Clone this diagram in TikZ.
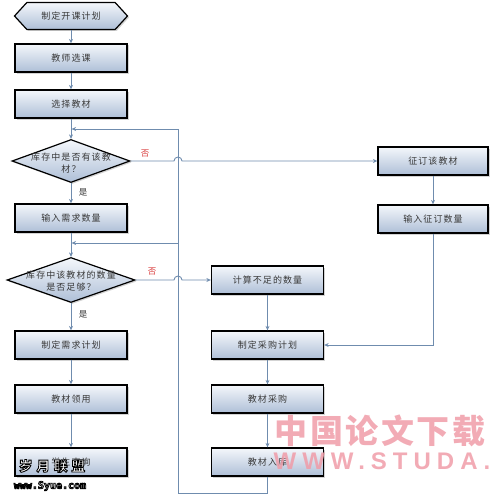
\documentclass[tikz,border=0pt]{standalone}
\usepackage{fontspec}
\setmainfont{Liberation Serif}
\newfontfamily\cjk[LetterSpace=12]{Noto Sans CJK SC}
\newfontfamily\cjkwm[LetterSpace=8]{Noto Sans CJK SC}
\newfontfamily\cjkwmb[LetterSpace=30]{Noto Sans CJK SC}
\newfontfamily\latwm[LetterSpace=25]{Liberation Sans}
\newfontfamily\monowm{DejaVu Sans Mono}
\usetikzlibrary{shapes.geometric,shapes.symbols,shadows,arrows.meta}
\definecolor{lnc}{HTML}{6F8CAE}
\definecolor{boxb}{HTML}{AEBFD7}
\definecolor{boxt}{HTML}{F4F7FB}
\definecolor{wmpink}{HTML}{F09CA8}
\definecolor{nored}{HTML}{D83A3A}
\newcommand\outlinetxt[2]{\special{pdf:literal direct 2 Tr #1 w 0 G}#2\special{pdf:literal direct 0 Tr}}
\tikzset{
  shade/.style={top color=boxt, bottom color=boxb},
  shad/.style={drop shadow={shadow xshift=1.5pt,shadow yshift=-1.5pt,opacity=0.35,fill=gray}},
  proc/.style={draw=black, line width=1.3pt, shade, shad, minimum width=112pt,
    minimum height=28pt, inner sep=0pt, font=\cjk\fontsize{9}{11}\selectfont, text=black!78},
  startbox/.style={signal, signal to=west and east, signal pointer angle=95,
    draw=black, line width=1.2pt, shade, shad, minimum width=113pt, minimum height=27pt,
    inner sep=0pt, font=\cjk\fontsize{9}{11}\selectfont, text=black!78},
  dec/.style={diamond, draw=black, line width=1.2pt, shade, shad, inner sep=0pt},
  dtext/.style={align=center, inner sep=0pt, font=\cjk\fontsize{9}{12.5}\selectfont, text=black!78},
  conn/.style={draw=lnc, line width=0.9pt, -{Stealth[length=4.5pt,width=4pt]}},
  yes/.style={font=\cjk\fontsize{8.5}{10}\selectfont, text=black!80, inner sep=0pt},
  no/.style={font=\cjk\fontsize{8.5}{10}\selectfont, text=nored, inner sep=0pt},
}
\begin{document}
\begin{tikzpicture}[x=1pt,y=-1pt]
\useasboundingbox (0,0) rectangle (492,495);
% left column
\node[startbox] (s) at (71,16) {制定开课计划};
\node[proc] (b1) at (71,58) {教师选课};
\node[proc] (b2) at (71,104) {选择教材};
\node[dec, minimum width=118pt, minimum height=43pt] (d1) at (71,161) {};
\node[dtext] (d1t) at (71,163) {库存中是否有该教\\材？};
\node[proc] (b3) at (71,218) {输入需求数量};
\node[dec, minimum width=128pt, minimum height=45pt] (d2) at (71,280) {};
\node[dtext] (d2t) at (71,281) {库存中该教材的数量\\是否足够？};
\node[proc] (b4) at (71,345) {制定需求计划};
\node[proc] (b5) at (71,399) {教材领用};
\node[proc] (b6) at (71,462) {学生查询};
% middle column
\node[proc] (c1) at (267.5,280) {计算不足的数量};
\node[proc] (c2) at (267.5,345) {制定采购计划};
\node[proc] (c3) at (267.5,399) {教材采购};
\node[proc] (c4) at (267.5,462) {教材入库};
% right column
\node[proc, minimum width=110pt] (r1) at (433,161) {征订该教材};
\node[proc, minimum width=110pt] (r2) at (433,219) {输入征订数量};
% helper coordinates
\coordinate (bump1) at (174,161);
\coordinate (bump2) at (174,280);
\coordinate (fbBL) at (178,493);
\coordinate (fbTop) at (178,129);
\coordinate (fbMid) at (178,243);
\coordinate (j1) at (71.6,129);
\coordinate (j2) at (71.6,243);
% connectors
\draw[conn] (s.south) -- (b1.north);
\draw[conn] (b1) -- (b2);
\draw[conn] (b2) -- (d1);
\draw[conn] (d1) -- (b3);
\draw[conn] (b3) -- (d2);
\draw[conn] (d2) -- (b4);
\draw[conn] (b4) -- (b5);
\draw[conn] (b5) -- (b6);
\draw[conn] (d1.east) -- (bump1) arc[start angle=180,end angle=360,radius=4] -- (r1.west);
\draw[conn] (d2.east) -- (bump2) arc[start angle=180,end angle=360,radius=4] -- (c1.west);
\draw[conn] (r1) -- (r2);
\draw[conn] (r2.south) |- (c2.east);
\draw[conn] (c1) -- (c2);
\draw[conn] (c2) -- (c3);
\draw[conn] (c3) -- (c4);
\draw[conn] (c4.south) |- (fbBL) -- (fbTop) -- (j1);
\draw[conn] (fbMid) -- (j2);
% labels
\node[no] (n1) at (145,154) {否};
\node[no] (n2) at (152,272) {否};
\node[yes] (y1) at (83,192) {是};
\node[yes] (y2) at (83,314) {是};
% watermarks
\node[text=wmpink, opacity=0.85, inner sep=0pt, font=\cjkwm\bfseries\fontsize{33}{33}\selectfont] (wm1) at (380,431) {中国论文下载};
\node[text=wmpink, opacity=0.85, inner sep=0pt, font=\latwm\bfseries\fontsize{24}{24}\selectfont] (wm2) at (382,461) {WWW.STUDA.};
\node[text=white, inner sep=0pt, font=\cjkwmb\bfseries\fontsize{13.5}{13.5}\selectfont] (wm3) at (52,466) {\outlinetxt{0.9}{岁月联盟}};
\node[text=white, inner sep=0pt, font=\monowm\bfseries\fontsize{10}{10}\selectfont] (wm4) at (50,486) {\outlinetxt{0.8}{www.Syue.com}};
\end{tikzpicture}
\end{document}
